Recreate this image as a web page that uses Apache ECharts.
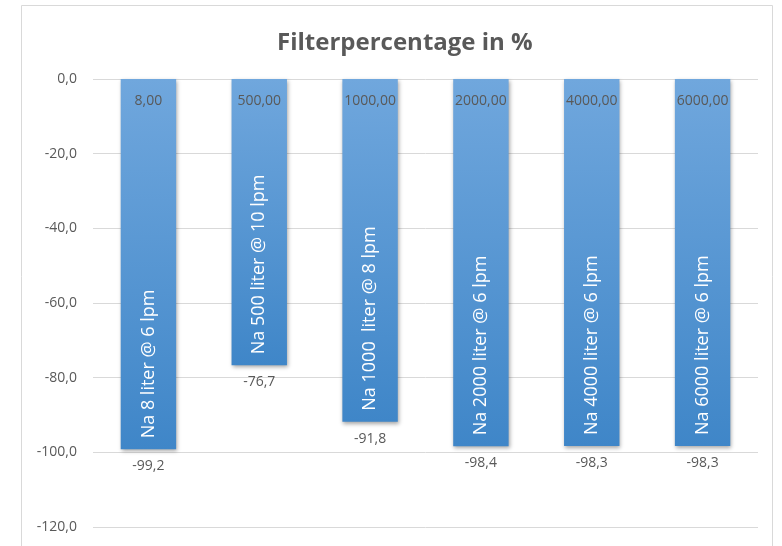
<!DOCTYPE html>
<html>
<head>
    <meta charset="utf-8">
    <title>Filterpercentage in %</title>
    <style>
        html, body { margin: 0; padding: 0; background: #fff; }
    </style>
</head>
<body>
    <div id="main" style="width:782px;height:546px"></div>
    <script src="https://cdn.jsdelivr.net/npm/echarts@6/dist/echarts.min.js"></script>
    <script type="text/javascript">
// data
var categories = ['8,00', '500,00', '1000,00', '2000,00', '4000,00', '6000,00'];
var seriesNames = [
    'Na 8 liter @ 6 lpm',
    'Na 500 liter @ 10 lpm',
    'Na 1000  liter @ 8 lpm',
    'Na 2000 liter @ 6 lpm',
    'Na 4000 liter @ 6 lpm',
    'Na 6000 liter @ 6 lpm'
];
var values = [-99.2, -76.7, -91.8, -98.4, -98.3, -98.3];

var myChart = echarts.init(document.getElementById('main'));
var txt = '#595959';
var font = '"Open Sans", sans-serif';

function comma(v, d) {
    return v.toFixed(d).replace('.', ',');
}

var option = {
    animation: false,
    textStyle: { fontFamily: font },
    title: {
        text: 'Filterpercentage in %',
        left: 272,
        top: 26,
        textStyle: { color: txt, fontSize: 24, fontWeight: 'bold', fontFamily: font }
    },
    graphic: [{
        type: 'rect',
        shape: { x: 21.5, y: 5.5, width: 751, height: 600 },
        style: { fill: 'none', stroke: '#d9d9d9', lineWidth: 1 },
        silent: true
    }],
    grid: { left: 93, right: 24, top: 79, bottom: 19 },
    xAxis: {
        type: 'category',
        data: categories,
        axisLine: { show: false },
        axisTick: { show: false },
        axisLabel: { show: false }
    },
    yAxis: {
        type: 'value',
        min: -120,
        max: 0,
        interval: 20,
        axisLine: { show: false },
        axisTick: { show: false },
        axisLabel: {
            color: txt,
            fontSize: 14,
            margin: 16,
            fontFamily: font,
            formatter: function (v) { return comma(v, 1); }
        },
        splitLine: { lineStyle: { color: '#d9d9d9', width: 1 } }
    },
    series: [
        {
            type: 'bar',
            data: values,
            barWidth: '50%',
            barGap: '-100%',
            itemStyle: {
                color: new echarts.graphic.LinearGradient(0, 0, 0, 1, [
                    { offset: 0, color: '#70a7dd' },
                    { offset: 1, color: '#3f86c8' }
                ]),
                shadowBlur: 4,
                shadowColor: 'rgba(0,0,0,0.35)',
                shadowOffsetX: 1,
                shadowOffsetY: 2
            },
            label: {
                show: true,
                position: 'bottom',
                distance: 10,
                color: txt,
                fontSize: 14,
                fontFamily: font,
                formatter: function (p) { return comma(p.value, 1); }
            }
        },
        {
            type: 'bar',
            data: values,
            barWidth: '50%',
            barGap: '-100%',
            silent: true,
            itemStyle: { color: 'rgba(0,0,0,0)' },
            label: {
                show: true,
                position: 'insideBottom',
                rotate: 90,
                align: 'left',
                verticalAlign: 'middle',
                distance: 11,
                color: '#ffffff',
                fontSize: 18,
                fontFamily: font,
                formatter: function (p) { return seriesNames[p.dataIndex]; }
            }
        },
        {
            type: 'bar',
            data: values,
            barWidth: '50%',
            barGap: '-100%',
            silent: true,
            itemStyle: { color: 'rgba(0,0,0,0)' },
            label: {
                show: true,
                position: 'insideTop',
                distance: 15,
                color: txt,
                fontSize: 14,
                fontFamily: font,
                formatter: function (p) { return p.name; }
            }
        }
    ]
};

myChart.setOption(option);
    </script>
</body>
</html>
